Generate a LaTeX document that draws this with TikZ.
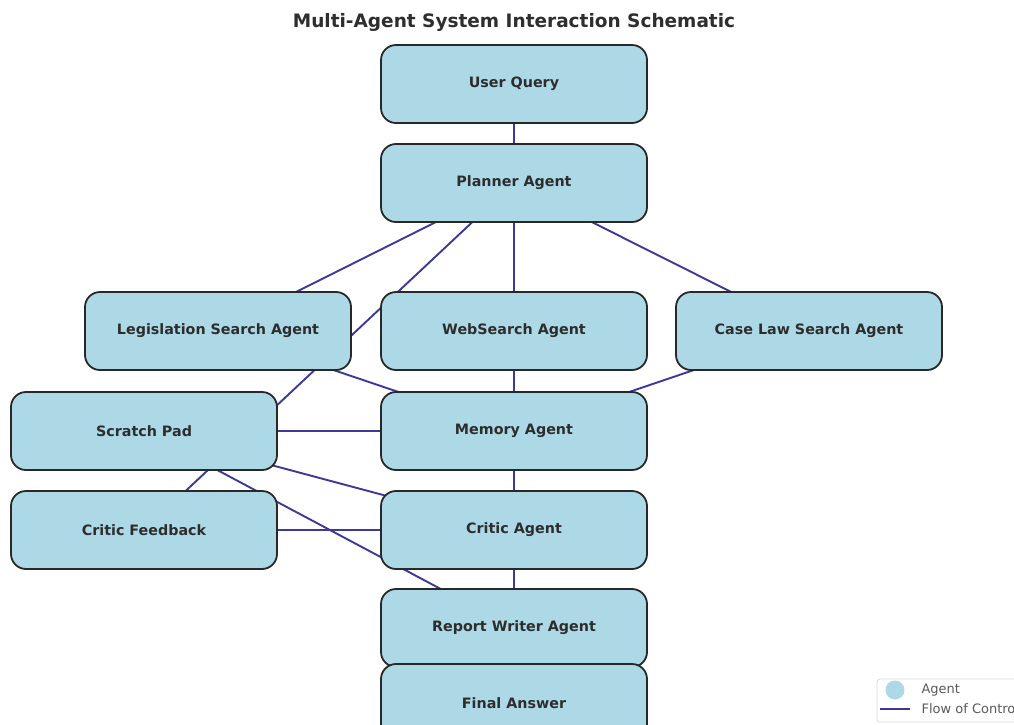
\documentclass[tikz,border=0pt]{standalone}
\usepackage{fontspec}
\setmainfont{DejaVu Sans}
\definecolor{boxfill}{RGB}{173,216,230}
\definecolor{boxline}{RGB}{40,40,40}
\definecolor{flow}{RGB}{60,58,150}
\definecolor{labeltext}{RGB}{45,45,45}
\definecolor{legendtext}{RGB}{90,90,90}
\begin{document}
\begin{tikzpicture}[x=1pt,y=-1pt,
  agent/.style={draw=boxline,line width=1.8pt,fill=boxfill,rounded corners=15pt,
    minimum width=266pt,minimum height=78pt,inner sep=0pt,
    font=\fontsize{14.3}{16}\selectfont\bfseries,text=labeltext},
  flowline/.style={draw=flow,line width=1.9pt},
  legendlabel/.style={anchor=west,font=\fontsize{13}{15}\selectfont,text=legendtext}]
\useasboundingbox (0,0) rectangle (1014,724);
\clip (0,0) rectangle (1014,724);
\fill[white] (0,0) rectangle (1014,724);

% title
\node[font=\fontsize{18.5}{21}\selectfont\bfseries,text=black!82] (title) at (514,22) {Multi-Agent System Interaction Schematic};

% anchor points at the box centres, so the connectors can be drawn first
\coordinate (pUQ) at (514,84);
\coordinate (pPL) at (514,183);
\coordinate (pLS) at (218,331);
\coordinate (pWS) at (514,331);
\coordinate (pCL) at (809,331);
\coordinate (pSP) at (144,431);
\coordinate (pMA) at (514,431);
\coordinate (pCF) at (144,530);
\coordinate (pCA) at (514,530);
\coordinate (pRW) at (514,628);
\coordinate (pFA) at (514,703);

% flow of control, centre to centre, hidden under the boxes
\draw[flowline] (pUQ) -- (pPL);
\draw[flowline] (pPL) -- (pLS);
\draw[flowline] (pPL) -- (pWS);
\draw[flowline] (pPL) -- (pCL);
\draw[flowline] (pPL) -- (pCF);
\draw[flowline] (pWS) -- (pMA);
\draw[flowline] (pLS) -- (pMA);
\draw[flowline] (pCL) -- (pMA);
\draw[flowline] (pSP) -- (pMA);
\draw[flowline] (pSP) -- (pCA);
\draw[flowline] (pSP) -- (pRW);
\draw[flowline] (pCF) -- (pCA);
\draw[flowline] (pMA) -- (pCA);
\draw[flowline] (pCA) -- (pRW);
\draw[flowline] (pRW) -- (pFA);

% agents
\node[agent] (UQ) at (pUQ) {User Query};
\node[agent] (PL) at (pPL) {Planner Agent};
\node[agent] (LS) at (pLS) {Legislation Search Agent};
\node[agent] (WS) at (pWS) {WebSearch Agent};
\node[agent] (CL) at (pCL) {Case Law Search Agent};
\node[agent] (SP) at (pSP) {Scratch Pad};
\node[agent] (MA) at (pMA) {Memory Agent};
\node[agent] (CF) at (pCF) {Critic Feedback};
\node[agent] (CA) at (pCA) {Critic Agent};
\node[agent] (RW) at (pRW) {Report Writer Agent};
\node[agent] (FA) at (pFA) {Final Answer};

% legend
\draw[draw=black!15,fill=white,rounded corners=3pt,line width=0.8pt] (877,679) rectangle (1040,722);
\node[circle,fill=boxfill,minimum size=19pt,inner sep=0pt] (legA) at (895,690) {};
\node[legendlabel] (legAt) at (918,690) {Agent};
\coordinate (legL1) at (880,709);
\coordinate (legL2) at (910,709);
\draw[flow,line width=1.6pt] (legL1) -- (legL2);
\node[legendlabel] (legFt) at (918,709) {Flow of Control};
\end{tikzpicture}
\end{document}
